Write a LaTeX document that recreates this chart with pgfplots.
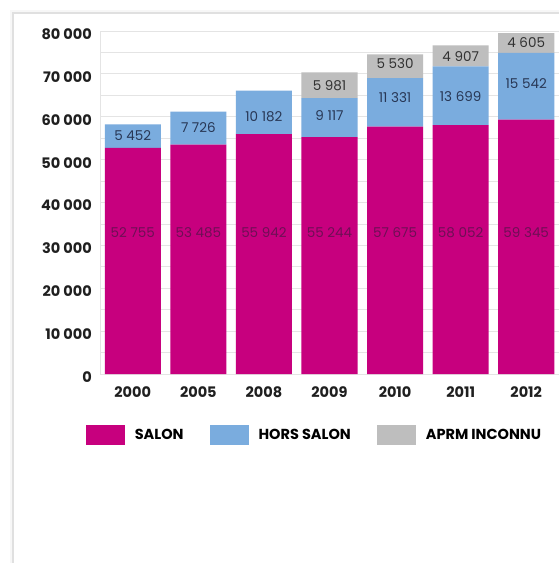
\documentclass[border=0pt]{standalone}
\usepackage{pgfplots}
\pgfplotsset{compat=1.18}
\usepackage{pgfplotstable}
\usepackage{fontspec}
\setmainfont{Poppins}
\definecolor{salon}{RGB}{199,0,126}
\definecolor{hors}{RGB}{122,172,222}
\definecolor{aprm}{RGB}{190,190,190}
\definecolor{gridc}{RGB}{228,228,228}
\definecolor{lblsalon}{RGB}{110,15,85}
\definecolor{lblhors}{RGB}{40,55,85}
\definecolor{lblaprm}{RGB}{50,50,50}
\tikzset{vl/.style={font=\fontsize{13.5bp}{14bp}\selectfont, inner sep=0pt}}
\pgfplotsset{
  boxlegend/.style={legend image code/.code={\fill[##1] (0bp,-10bp) rectangle (39bp,10bp);}}
}

\pgfplotstableread{
x salon hors aprm
0 52755 5452 0
1 53485 7726 0
2 55942 10182 0
3 55244 9117 5981
4 57675 11331 5530
5 58052 13699 4907
6 59345 15542 4605
}\datatable

\begin{document}
\begin{tikzpicture}
\useasboundingbox (-100bp,-189bp) rectangle (459bp,374bp);
\fill[white] (-100bp,-189bp) rectangle (459bp,374bp);
\fill[black!3] (-90bp,-189bp) rectangle (459bp,364bp);
\fill[white] (-87bp,-189bp) rectangle (459bp,361bp);
\draw[black!12, line width=1.2bp] (-87bp,-189bp) -- (-87bp,361bp) -- (459bp,361bp);
\begin{axis}[
  at={(0,0)}, anchor=south west,
  scale only axis, width=459bp, height=343bp,
  ybar stacked, bar width=0.855,
  xmin=-0.5, xmax=6.5, ymin=0, ymax=80000,
  scaled y ticks=false,
  axis lines=left,
  axis line style={-, draw=gridc},
  x axis line style={draw=none},
  major tick length=0pt, minor tick length=0pt,
  xtick={0,1,2,3,4,5,6},
  xticklabels={2000,2005,2008,2009,2010,2011,2012},
  ytick={0,10000,20000,30000,40000,50000,60000,70000,80000},
  yticklabels={0,10 000,20 000,30 000,40 000,50 000,60 000,70 000,80 000},
  minor ytick={5000,15000,25000,35000,45000,55000,65000,75000},
  ymajorgrids, yminorgrids,
  grid style={draw=gridc, line width=0.8bp},
  minor grid style={draw=gridc, line width=0.8bp},
  yticklabel style={font=\bfseries\fontsize{14.5bp}{15bp}\selectfont, text=black!88, inner sep=0pt, xshift=-8bp, yshift=-3bp},
  xticklabel style={font=\bfseries\fontsize{14.5bp}{15bp}\selectfont, text=black!88, inner sep=0pt, yshift=-12bp},
  legend columns=3,
  legend cell align=left,
  boxlegend,
  legend style={at={(0,0)}, anchor=west, xshift=-14.4bp, yshift=-60.6bp,
    draw=none, fill=none, inner sep=0pt,
    font=\bfseries\fontsize{14.5bp}{15bp}\selectfont,
    /tikz/every odd column/.append style={column sep=8bp},
    /tikz/every even column/.append style={column sep=24bp}},
]
\addplot[fill=salon, draw=none] table[x=x, y=salon] {\datatable};
\addlegendentry{SALON}
\addplot[fill=hors, draw=none] table[x=x, y=hors] {\datatable};
\addlegendentry{HORS SALON}
\addplot[fill=aprm, draw=none] table[x=x, y=aprm] {\datatable};
\addlegendentry{APRM INCONNU}

\coordinate (s0) at (axis cs:0,32900);
\coordinate (s1) at (axis cs:1,32900);
\coordinate (s2) at (axis cs:2,32900);
\coordinate (s3) at (axis cs:3,32900);
\coordinate (s4) at (axis cs:4,32900);
\coordinate (s5) at (axis cs:5,32900);
\coordinate (s6) at (axis cs:6,32900);
\coordinate (h0) at (axis cs:0,55700);
\coordinate (h1) at (axis cs:1,57600);
\coordinate (h2) at (axis cs:2,60000);
\coordinate (h3) at (axis cs:3,60300);
\coordinate (h4) at (axis cs:4,64400);
\coordinate (h5) at (axis cs:5,64700);
\coordinate (h6) at (axis cs:6,67700);
\coordinate (a3) at (axis cs:3,67200);
\coordinate (a4) at (axis cs:4,72300);
\coordinate (a5) at (axis cs:5,74000);
\coordinate (a6) at (axis cs:6,77300);
\end{axis}
\node[vl, text=lblsalon] at (s0) {52 755};
\node[vl, text=lblsalon] at (s1) {53 485};
\node[vl, text=lblsalon] at (s2) {55 942};
\node[vl, text=lblsalon] at (s3) {55 244};
\node[vl, text=lblsalon] at (s4) {57 675};
\node[vl, text=lblsalon] at (s5) {58 052};
\node[vl, text=lblsalon] at (s6) {59 345};
\node[vl, text=lblhors] at (h0) {5 452};
\node[vl, text=lblhors] at (h1) {7 726};
\node[vl, text=lblhors] at (h2) {10 182};
\node[vl, text=lblhors] at (h3) {9 117};
\node[vl, text=lblhors] at (h4) {11 331};
\node[vl, text=lblhors] at (h5) {13 699};
\node[vl, text=lblhors] at (h6) {15 542};
\node[vl, text=lblaprm] at (a3) {5 981};
\node[vl, text=lblaprm] at (a4) {5 530};
\node[vl, text=lblaprm] at (a5) {4 907};
\node[vl, text=lblaprm] at (a6) {4 605};
\end{tikzpicture}
\end{document}
